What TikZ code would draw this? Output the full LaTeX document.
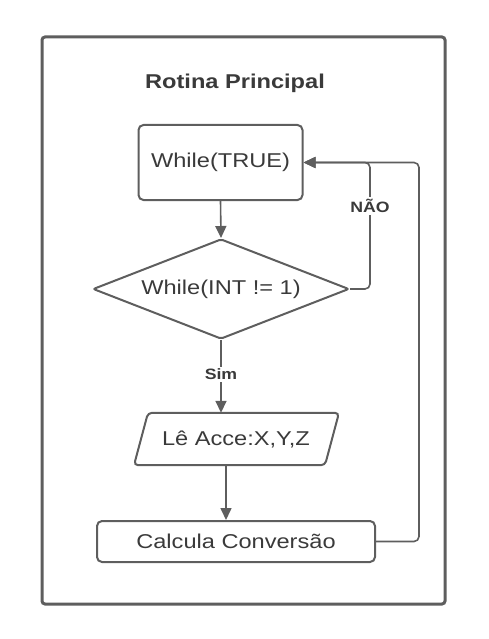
\documentclass[tikz,border=0pt]{standalone}
\usepackage{fontspec}
\setmainfont{Liberation Sans}[FakeStretch=1.18]
\usetikzlibrary{shapes.geometric,arrows.meta}
\definecolor{ln}{HTML}{5E5E5E}
\definecolor{tx}{HTML}{3A3A3A}
\begin{document}
\begin{tikzpicture}[x=1pt,y=-1pt,
  every node/.style={text=tx,font=\fontsize{20}{24}\selectfont},
  boxst/.style={draw=ln,line width=2pt,rounded corners=5pt,inner sep=0pt},
  arr/.style={draw=ln,line width=1.6pt,-{Triangle[length=12pt,width=11pt]}},
  lbl/.style={fill=white,inner sep=2pt,font=\bfseries\fontsize{15}{18}\selectfont}]
\useasboundingbox (0,0) rectangle (488,639);
\draw[ln,line width=3pt,rounded corners=3pt] (42,37) rectangle (445,604);
\node (title) at (235,83) {\bfseries Rotina Principal};
\node[boxst,minimum width=164pt,minimum height=75pt] (wt) at (220.5,162.5) {While(TRUE)};
\node[boxst,shape=diamond,rounded corners=2pt,aspect=2.56,minimum width=256pt,minimum height=100pt] (dia) at (221,289) {While(INT != 1)};
\node[inner sep=0pt,minimum width=205pt,minimum height=52pt] (lee) at (236,439) {Lê Acce:X,Y,Z};
\draw[ln,line width=2pt,rounded corners=4pt] ([xshift=-88pt]lee.north) -- ([xshift=103pt]lee.north) -- ([xshift=89pt]lee.south) -- ([xshift=-102pt]lee.south) -- cycle;
\node[boxst,minimum width=278pt,minimum height=41pt] (calc) at (236,541.5) {Calcula Conversão};
\coordinate (nao) at (370,289);
\coordinate (outer) at (419,541.5);
\coordinate (leeout) at (226,465);
\draw[arr] (wt.south) -- (dia.north);
\draw[arr] (dia.south) -- node[lbl,pos=0.47]{Sim} (dia.south |- lee.north);
\draw[arr] (leeout) -- (leeout |- calc.north);
\draw[arr,rounded corners=5pt] (dia.east) -- (nao) -- (nao |- wt.east) -- (wt.east);
\node[lbl] (naolbl) at (370,206) {NÃO};
\draw[arr,rounded corners=5pt] (calc.east) -- (outer) -- (outer |- wt.east) -- (wt.east);
\end{tikzpicture}
\end{document}
